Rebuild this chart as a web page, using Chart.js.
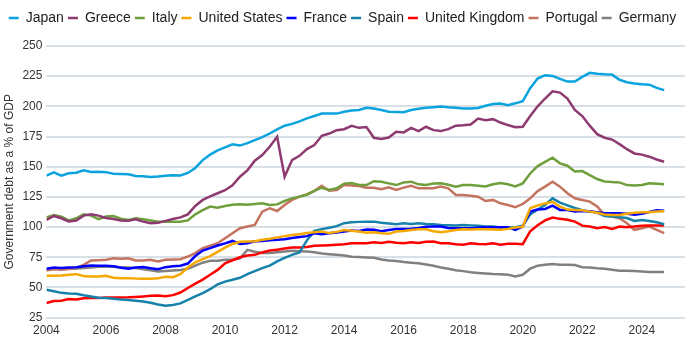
<!DOCTYPE html>
<html>
<head>
<meta charset="utf-8">
<script src="https://cdn.jsdelivr.net/npm/chart.js@4.4.1/dist/chart.umd.min.js"></script>
<style>
  body { margin: 0; background: #fff; }
  #wrap { width: 700px; height: 350px; }
</style>
</head>
<body>
<div id="wrap"><canvas id="debtChart"></canvas></div>
<script>
// quarterly readings, 2004 Q1 .. 2024 Q4 (one row per year)
const startYear = 2004

const japan = [
  142.6, 145.3, 142.6, 144.5,
  145, 147, 145.6, 145.9,
  145.5, 144.2, 144, 143.7,
  142.3, 142, 141.5, 141.8,
  142.5, 143, 142.8, 144.8,
  149, 155.5, 160, 163.5,
  166, 168.5, 167.5, 169.5,
  172, 174.5, 177.5, 181,
  184, 185.5, 187.5, 190,
  192, 194, 194, 194,
  195.5, 196.5, 197, 198.8,
  198.2, 197, 195.5, 195.3,
  195.2, 197, 198, 198.8,
  199.3, 199.8, 199.2, 198.8,
  198.2, 198.3, 198.6, 200.5,
  202, 202.3, 201, 202.5,
  204.3, 215, 223, 225.8,
  225.2, 222.8, 220.5, 220.5,
  224.4, 227.8, 227, 226.5,
  226.3, 222, 220, 219,
  218.3, 218, 215.3, 213.4
]
const greece = [
  106, 109.2, 107.3, 104.6,
  105.4, 109.5, 110.6, 109.5,
  107.5, 106.7, 105.5, 105.3,
  106.5, 104.5, 103.2, 103.5,
  105.1, 106.7, 108, 110.5,
  117.5, 122.5, 125.5, 128,
  130.5, 134.5, 141.7, 147,
  155, 159.6, 166.5, 174.8,
  141.7, 155.5, 159, 164.6,
  167.9, 175.6, 177.5, 180.3,
  181.1, 183.9, 182.2, 182.8,
  174, 172.9, 174.2, 178.9,
  178.4, 182.2, 179.5, 183.1,
  180.3, 179.5, 181.1, 184,
  184.4, 185, 189.9, 188.6,
  189.4, 186.6, 184.5, 182.8,
  183.1, 192, 200, 206.5,
  212.5, 211.4, 206.5, 197,
  192, 184, 177, 174,
  172.5, 168.7, 164.5, 161,
  160, 158.3, 156, 154.1
]
const italy = [
  108, 110, 108.5, 105.5,
  107.3, 110.6, 109.5, 106.5,
  108.7, 109.2, 107, 105.9,
  107.3, 106.5, 105.5, 104.5,
  104.5, 104.5, 104.5, 105.5,
  110.5, 114, 117, 116.1,
  117.5, 118.5, 119, 118.5,
  119.2, 119.7, 118.3, 118.8,
  121.6, 123.8, 125.2, 126.8,
  130, 132.6, 130.7, 132.1,
  136, 136.5, 134.8, 134.8,
  138, 137.6, 136.2, 134.8,
  137, 137.6, 135.4, 134.8,
  136, 136.2, 135, 133.5,
  134.8, 134.8, 134.2, 133.7,
  135.4, 136.5, 135.4, 133.7,
  136.2, 144.4, 150.5, 154,
  157.4, 152.8, 150.8, 146,
  146.4, 143.1, 139.8, 137.8,
  137.3, 137, 134.8, 134.4,
  134.8, 136.2, 135.9, 135.4
]
const unitedStates = [
  59.6, 59.6, 59.8, 60.5,
  61, 59.5, 59, 59,
  59.6, 58, 57.7, 57.7,
  57.3, 57.1, 57.1, 57.5,
  58.8, 58.5, 61, 66.5,
  70.8, 73.5, 76, 79.5,
  83, 86, 87.8, 88,
  88.3, 89.5, 90.3, 91.3,
  92.5, 93.5, 94, 95,
  95.7, 96.3, 95, 96,
  97.5, 97, 96.3, 95.3,
  95.7, 94.9, 94.4, 96.3,
  96.8, 97.5, 98.2, 98.2,
  96.5, 95.7, 96.5, 97.5,
  98.2, 97.9, 98.2, 98.2,
  98, 97.8, 98.5, 99.6,
  100.2, 115.6, 118, 119.5,
  121, 117, 114.5, 114.2,
  114, 112.8, 111.8, 110.5,
  110, 110, 111, 111.8,
  112.3, 112.3, 112.8, 113
]
const france = [
  65.4, 66.5, 66, 66.5,
  66.8, 67.6, 68.2, 68,
  67.9, 67.6, 66.3, 65.5,
  66.5, 67, 65.8, 65,
  66.8, 67.5, 68, 69.8,
  76, 80.5, 82.5, 84.7,
  86.5, 88.5, 86, 86.6,
  88.3, 88.5, 89, 89.4,
  90, 91, 91.8, 92.5,
  94.9, 94, 94.8, 95.5,
  96.3, 97.2, 96.8, 98,
  97.7, 96.5, 97.5, 98.3,
  98.5, 98.7, 99.2, 100.2,
  100.4, 100.4, 99.3, 99,
  99, 99, 99.5, 99.8,
  99.9, 99.9, 99.9, 97.7,
  100.4, 112.8, 114.5, 115,
  117.8, 114.2, 114.2, 113,
  113.3, 112.8, 112.3, 111.4,
  111.4, 111.4, 111, 110.3,
  111, 112.5, 113.9, 113.6
]
const spain = [
  48.1, 46.8, 45.5, 45,
  44.8, 43.5, 42.5, 41.5,
  41.2, 40.7, 40, 39.5,
  39, 38.4, 37.3, 35.8,
  34.9, 35.5, 36.8, 39.6,
  42.6, 45.3, 48.5, 52.5,
  54.8, 56.3, 58, 61,
  63.5, 66, 68, 71.5,
  74.5, 77, 79, 89,
  96.8, 98.3, 99.5, 100.8,
  103.2, 104, 104.3, 104.5,
  104.5, 103.5, 103, 102.3,
  103.2, 102.5, 103.2, 102.5,
  102.3, 101.8, 101.5, 101.2,
  101.8, 101.4, 101, 100.4,
  100.4, 99.7, 99.7, 99.9,
  101.2, 110.5, 114.5, 118.3,
  123.8, 120.2, 118, 115.8,
  114, 113, 112, 109.2,
  108.8, 108.2, 107.5, 105.1,
  105.9, 105, 104, 102.3
]
const unitedKingdom = [
  37.1, 38.8, 39, 40.3,
  40, 41, 41.2, 41.3,
  41.6, 41.7, 41.7, 41.8,
  42.1, 42.5, 43, 43.3,
  42.7, 43.6, 45.8, 49.5,
  53.2, 56.5, 60.5, 64.5,
  70, 72.5, 75, 76.5,
  77, 79, 80.5, 81.3,
  82.2, 83, 83.1, 83.5,
  84.5, 84.7, 85, 85.4,
  85.8, 86.5, 86.6, 86.6,
  87.5, 86.8, 87.8, 87,
  86.6, 87.5, 86.8, 87.8,
  88, 86.6, 86.6, 85.8,
  85.3, 86.6, 86, 85.8,
  86.6, 85.3, 86.2, 86.2,
  85.8, 96.5, 101.5, 105.5,
  107.9, 106.8, 106, 104.5,
  101.2, 100.4, 99, 100.1,
  98.5, 100.4, 99.9, 100.5,
  101, 101.2, 101.2, 101.2
]
const portugal = [
  64, 65.2, 64.6, 65.3,
  66, 68.7, 72.3, 72.6,
  72.9, 74.2, 73.7, 74.2,
  72.3, 72.3, 72.9, 71.5,
  72.9, 73.2, 73.4, 75.6,
  78.4, 82.5, 84.5, 86.6,
  90.7, 94.9, 99, 100.4,
  101.8, 112.8, 115.6, 113.3,
  118.3, 122.5, 125.2, 127.1,
  130, 134.3, 130.1, 130.7,
  134.8, 134.5, 134, 132.6,
  132.6, 131.3, 132.9, 130.8,
  132.7, 134.2, 132.1, 132.1,
  132.1, 133.5, 132.1, 126.6,
  126.6, 126, 125.2, 121.6,
  122.5, 119.7, 118.3, 116.4,
  119.1, 123.8, 129.8, 133.5,
  137.6, 133.5, 128, 123.8,
  122.5, 121.1, 117, 110,
  108.7, 107.3, 103.2, 97.7,
  99, 100.4, 97.7, 94.9
]
const germany = [
  64.6, 65, 65.2, 65.4,
  65.7, 66, 66.5, 67.1,
  67.1, 67.1, 66.8, 66.5,
  66, 65, 64.3, 63.2,
  63.6, 64, 64.5, 65.5,
  68, 70.5, 72, 72.1,
  72.9, 72.9, 74, 81.1,
  79.5, 78.6, 78.5, 79.2,
  79.7, 80.3, 80, 79.7,
  79.2, 78.1, 77.5, 77,
  76.5, 75.5, 75.2, 74.8,
  74.5, 73.2, 72.3, 71.8,
  71, 70.5, 70, 69,
  68, 66.5, 65.5, 64.2,
  63.5, 62.6, 62, 61.5,
  61.1, 60.9, 60.6, 59,
  60.5, 65.5, 68, 68.7,
  69.3, 68.8, 68.7, 68.5,
  66.8, 66.5, 65.8, 65.4,
  64.6, 63.9, 63.8, 63.6,
  63.2, 62.8, 62.7, 62.7
]

const countries = ['Japan', 'Greece', 'Italy', 'United States', 'France', 'Spain', 'United Kingdom', 'Portugal', 'Germany']
const seriesValues = [japan, greece, italy, unitedStates, france, spain, unitedKingdom, portugal, germany]
const lineColors = ['#0aa3de', '#8d3a71', '#6f9f3c', '#f5a800', '#0000ff', '#1681a9', '#ff0000', '#c4735f', '#808080']

function toPoints(values) {
    return values.map((v, i) => ({ x: startYear + i / 4, y: v }))
}

const datasets = countries.map((name, i) => ({
    label: name,
    data: toPoints(seriesValues[i]),
    borderColor: lineColors[i],
    backgroundColor: lineColors[i],
    borderWidth: 2.5,
    pointRadius: 0,
    tension: 0,
    fill: false
}))

// a bit more room under the legend row
const legendGap = {
    id: 'legendGap',
    beforeInit(chart) {
        const fit = chart.legend.fit
        chart.legend.fit = function () {
            fit.call(this)
            this.height += 11
        }
    }
}

Chart.defaults.font.family = "'Liberation Sans', Arial, sans-serif"

const ctx = document.getElementById('debtChart')
const debtChart = new Chart(ctx, {
    type: 'line',
    data: { datasets: datasets },
    plugins: [legendGap],
    options: {
        responsive: true,
        maintainAspectRatio: false,
        animation: false,
        layout: { padding: { top: 7, right: 15, bottom: 6, left: 0 } },
        plugins: {
            legend: {
                position: 'top',
                labels: {
                    usePointStyle: true,
                    pointStyle: 'line',
                    pointStyleWidth: 10,
                    boxHeight: 3,
                    padding: 4,
                    color: '#222',
                    font: { size: 14 }
                }
            },
            tooltip: { enabled: false }
        },
        scales: {
            x: {
                type: 'linear',
                min: 2004,
                max: 2025.45,
                grid: { display: false, drawTicks: false },
                border: { display: false },
                ticks: {
                    stepSize: 2,
                    includeBounds: false,
                    color: '#333',
                    padding: 6,
                    font: { size: 12 },
                    callback: (v) => String(v)
                }
            },
            y: {
                min: 25,
                max: 250,
                grid: { color: '#d8dfe5', lineWidth: 2, drawTicks: false },
                border: { display: false },
                ticks: {
                    stepSize: 25,
                    color: '#333',
                    padding: 4,
                    font: { size: 12 }
                },
                title: {
                    display: true,
                    text: 'Government debt as a % of GDP',
                    color: '#333',
                    font: { size: 12 },
                    padding: { top: 2, bottom: 2 }
                }
            }
        }
    }
})
</script>
</body>
</html>
